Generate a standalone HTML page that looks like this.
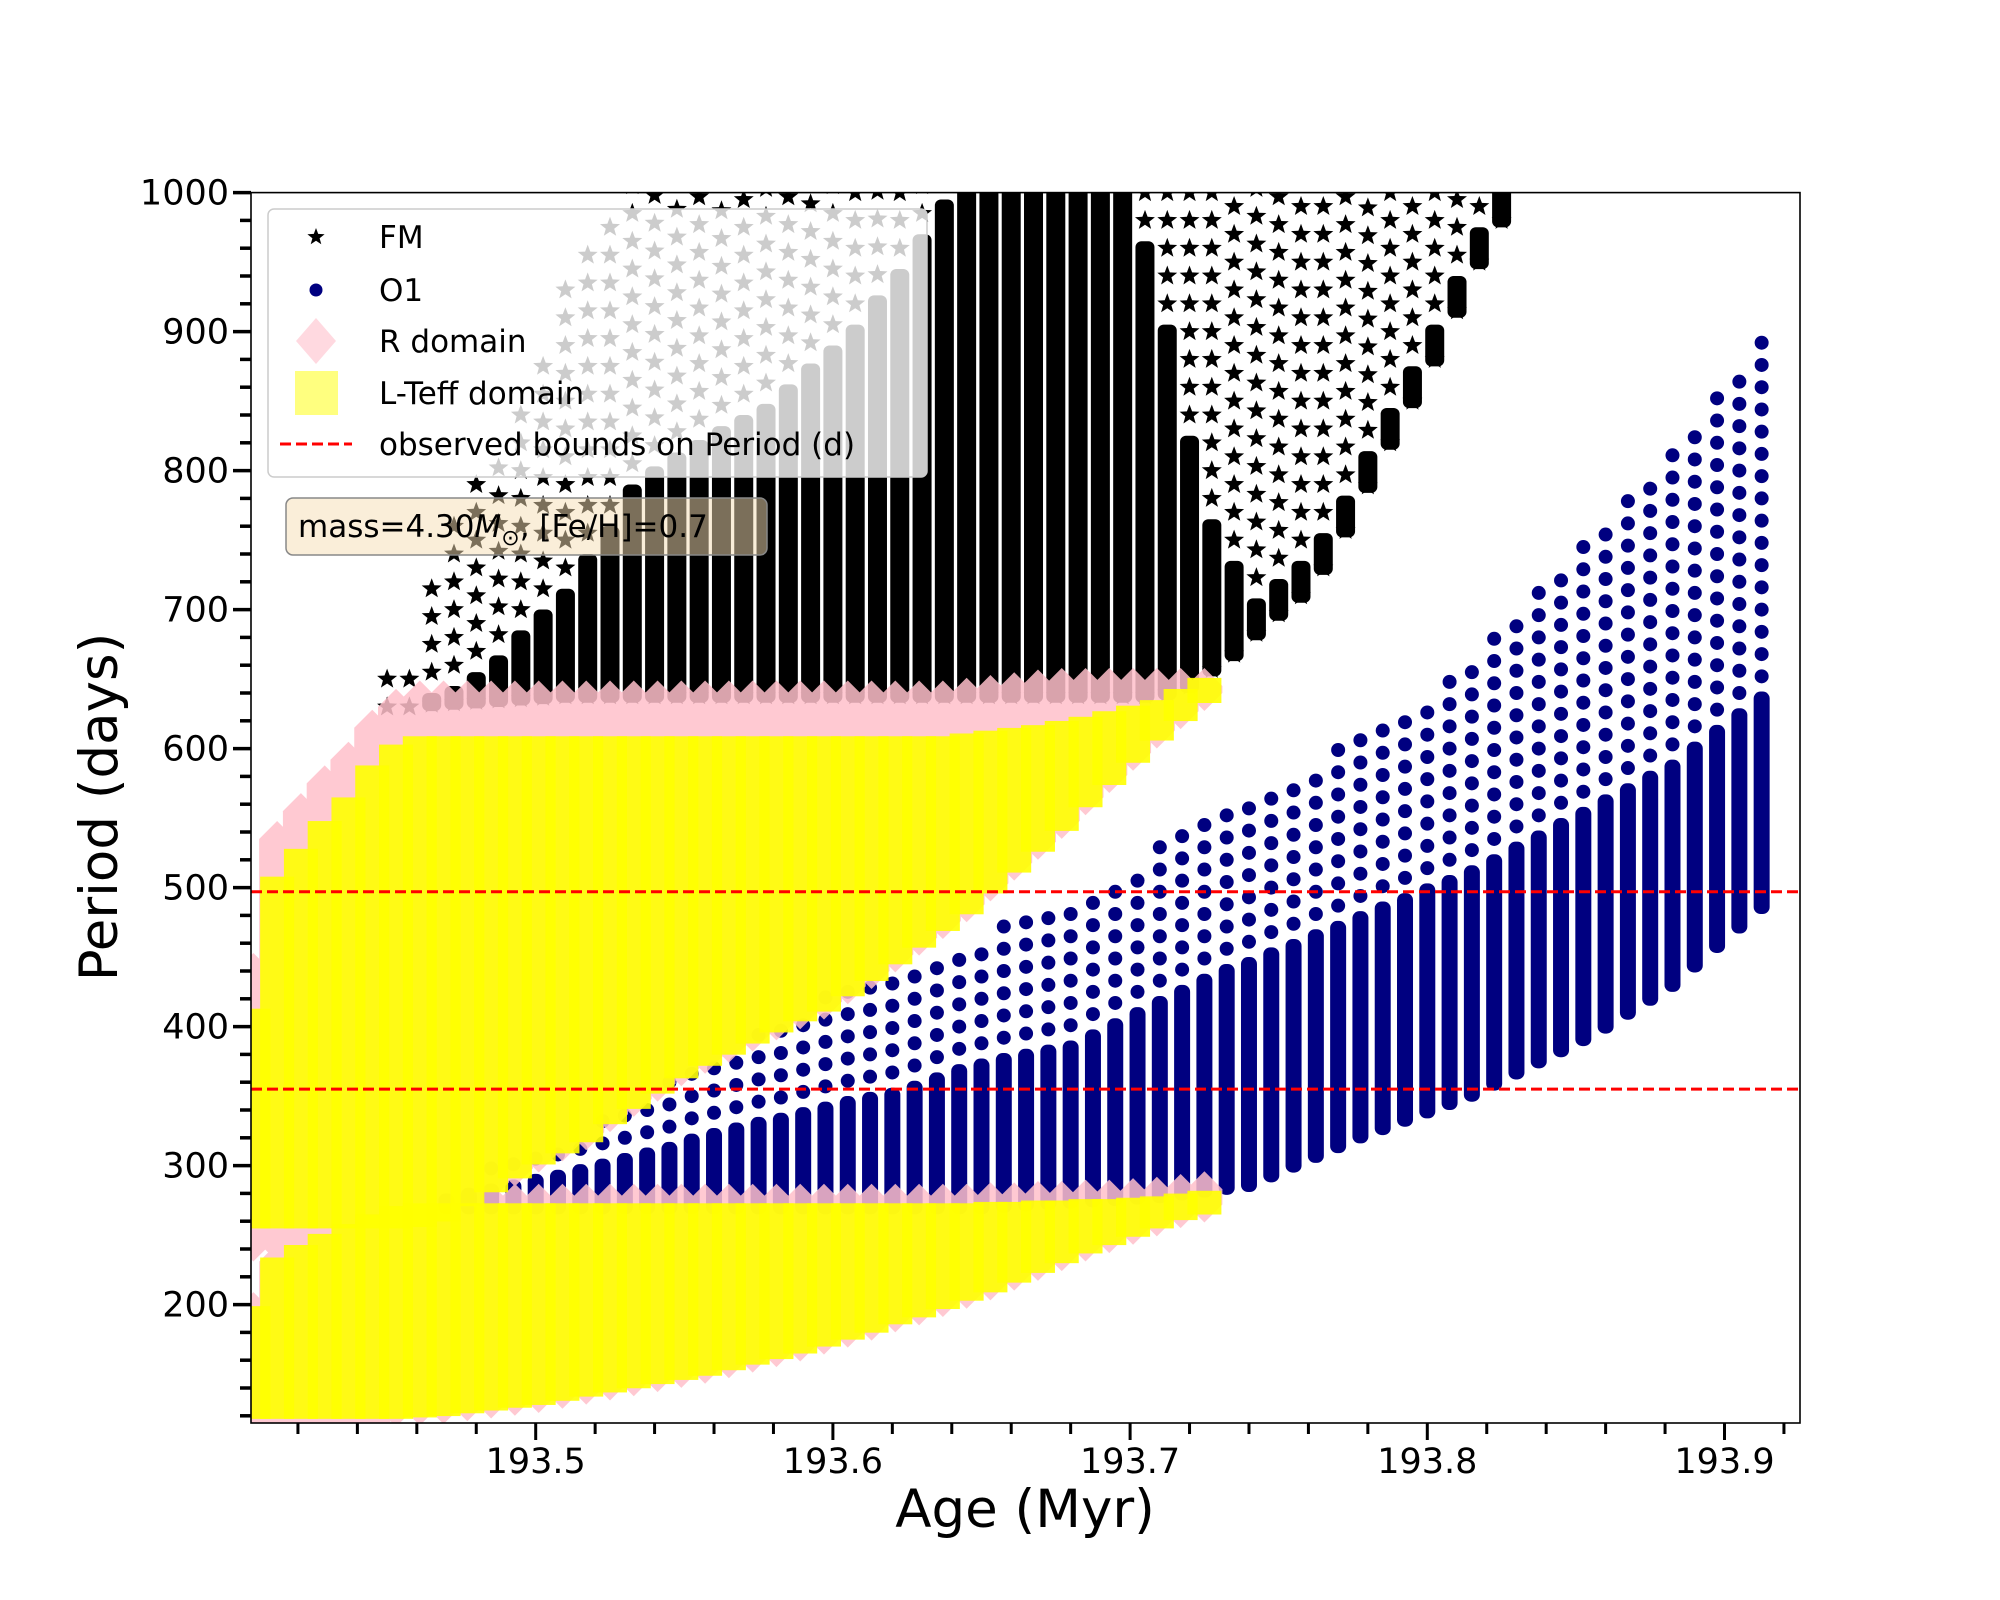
<!DOCTYPE html>
<html><head><meta charset="utf-8"><style>
html,body{margin:0;padding:0;background:#fff;}
svg{display:block;font-family:"DejaVu Sans","Liberation Sans",sans-serif;}
</style></head><body>
<svg id="chart" width="2000" height="1600" viewBox="0 0 2000 1600">
<defs><clipPath id="plotclip"><rect x="251" y="192.6" width="1549" height="1230.4"/></clipPath></defs>
<rect x="0" y="0" width="2000" height="1600" fill="#fff"/>
<g id="plot" clip-path="url(#plotclip)"></g>
<g id="axes"></g>
</svg>
<script>
// ---- data ----
const fmAges=[];for(let i=0;i<51;i++)fmAges.push(+(193.45+0.0075*i).toFixed(4));
const fmLow=[630,630,632,633,634,635,636,637,638,638,638,638,638,638,638,638,638,638,638,638,638,638,638,638,638,638,638,638,638,638,638,638,638,638,638,640,645,657,668,683,697,710,730,757,789,820,850,880,915,950,980];
const fmDense=[630,630,635,640,650,662,680,695,710,735,755,785,798,808,817,827,835,843,857,872,885,900,921,940,965,990,1000,1000,1000,1000,1000,1000,1000,1000,960,900,820,760,730,703,717,730,750,777,809,840,870,900,935,970,1000];
const fmTop=[645,650,705,760,790,800,830,880,920,950,980,1000,1000,1000,1000,1000,1000,1000,1000,1000,1000,1000,1000,1000,1000,1000,1000,1000,1000,1000,1000,1000,1000,1000,1000,1000,1000,1000,1000,1000,1000,1000,1000,1000,1000,1000,1000,1000,1000,1000,1000];
const o1Ages=[];for(let i=0;i<60;i++)o1Ages.push(+(193.47+0.0075*i).toFixed(4));
const o1Low=[270,270,270,270,270,270,270,270,270,270,270,270,270,270,270,270,270,270,270,270,270,270,270,270,270,271,272,273,274,275,276,277,278,280,282,284,286,293,300,307,314,321,327,333,339,345,351,359,367,375,383,391,400,410,420,430,444,458,472,486];
const o1Dense=[275,279,282,285,289,292,296,300,304,308,312,318,322,326,330,333,337,341,345,348,351,356,362,368,372,376,379,382,385,393,401,409,417,425,433,440,445,452,458,465,471,478,485,491,498,504,511,519,528,536,545,553,562,570,579,587,600,612,624,636];
const o1Top=[280,288,297,305,309,316,321,330,339,347,356,365,375,385,395,403,410,417,423,430,436,443,451,457,462,468,474,480,487,497,506,516,526,535,545,553,562,570,579,587,596,604,613,621,636,651,666,681,696,711,726,741,756,775,795,814,834,853,873,888];
const ltAges=[];for(let i=0;i<41;i++)ltAges.push(+(193.405+0.008*i).toFixed(3));
const ltUpperLow=[262,262,262,262,262,262,262,263,267,278,288,298,308,316,324,337,348,359,370,379,387,395,403,411,418,429,440,452,464,476,488,503,518,533,548,565,581,597,613,627,640];
const ltUpperHigh=[410,505,525,545,562,585,600,606,606,606,606,606,606,606,606,606,606,606,606,606,606,606,606,606,606,606,606,606,606,606,608,610,612,614,617,620,624,628,632,640,648];
const ltLowerLow=[125,125,125,125,125,125,125,126,127,129,131,133,135,138,141,144,147,150,153,156,160,164,168,172,177,182,187,193,198,204,210,216,223,230,237,244,250,256,262,268,272];
const ltLowerHigh=[196,231,240,248,255,262,268,270,270,270,270,270,270,270,270,270,270,270,270,270,270,270,270,270,270,270,270,270,270,270,270,271,271,272,272,273,273,274,275,277,279];
const obsBounds=[497,355];
const xTicks=[193.5,193.6,193.7,193.8,193.9];
const xTickLabels=["193.5","193.6","193.7","193.8","193.9"];
const yTicks=[200,300,400,500,600,700,800,900,1000];
const yTickLabels=["200","300","400","500","600","700","800","900","1000"];

// ---- scales ----
const X=a=>535.7+(a-193.5)*2972;
const Y=v=>192.6+(1000-v)*1.39;
const NS="http://www.w3.org/2000/svg";
const plot=document.getElementById('plot'),axes=document.getElementById('axes');
function mk(tag,attrs,parent){const e=document.createElementNS(NS,tag);for(const k in attrs)e.setAttribute(k,attrs[k]);parent.appendChild(e);return e;}
function starPts(cx,cy,r){let p=[];for(let k=0;k<10;k++){const rr=k%2?r*0.42:r;const an=-Math.PI/2+k*Math.PI/5;p.push((cx+rr*Math.cos(an)).toFixed(1)+','+(cy+rr*Math.sin(an)).toFixed(1));}return p.join(' ');}

// FM stars
const gFM=mk('g',{},plot);


fmAges.forEach((a,i)=>{
  const x=X(a);
  if(fmDense[i]>fmLow[i]+2){const r=mk('rect',{x:x-9.5,y:Y(fmDense[i])-7,width:19,height:Y(fmLow[i])-Y(fmDense[i])+14,rx:6,fill:'#000'},gFM);
    }
  for(let v=fmDense[i]+20;v<=fmTop[i]+10;v+=20){const s=mk('polygon',{points:starPts(x,Y(v),10.5),fill:'#000'},gFM);
    }
  const s0=mk('polygon',{points:starPts(x,Y(fmLow[i]),10.5),fill:'#000'},gFM);
  
});
// O1 dots
const gO1=mk('g',{},plot);


o1Ages.forEach((a,i)=>{
  const x=X(a);
  const r=mk('rect',{x:x-8,y:Y(o1Dense[i])-7,width:16,height:Y(o1Low[i])-Y(o1Dense[i])+14,rx:7,fill:'#000080'},gO1);
  
  for(let v=o1Dense[i]+16;v<=o1Top[i]+4;v+=16){const c=mk('circle',{cx:x,cy:Y(v),r:7,fill:'#000080'},gO1);
    }
});
// R domain (pink diamonds)
const gR=mk('g',{opacity:0.85},plot);


ltAges.forEach((a,i)=>{
  const x=X(a);
  const bands=[[ltUpperLow[i]-(i<8?18:0),Math.min(ltUpperHigh[i]+30,645)],[ltLowerLow[i]-(i<6?12:0),ltLowerHigh[i]+(i<8?0:4)]];
  bands.forEach(b=>{const y1=Y(b[1]),y2=Y(b[0]);
    const p=mk('polygon',{points:`${x},${y1-18} ${x+18},${y1} ${x+18},${y2} ${x},${y2+18} ${x-18},${y2} ${x-18},${y1}`,fill:'#ffc0cb'},gR);
    });
});
// L-Teff domain (yellow squares)
const gL=mk('g',{},plot);


ltAges.forEach((a,i)=>{
  const x=X(a);
  [[ltUpperLow[i],ltUpperHigh[i]],[ltLowerLow[i],ltLowerHigh[i]]].forEach(b=>{
    const r=mk('rect',{x:x-17,y:Y(b[1])-4,width:34,height:Y(b[0])-Y(b[1])+14,fill:'#ffff00','fill-opacity':0.9},gL);
    });
});
// observed bounds
obsBounds.forEach(v=>{const l=mk('line',{x1:251,x2:1800,y1:Y(v),y2:Y(v),stroke:'#ff0000','stroke-width':3,'stroke-dasharray':'11,5'},plot);
  });

// axes frame
const fr=mk('rect',{x:251,y:192.6,width:1549,height:1230.4,fill:'none',stroke:'#000','stroke-width':1.6},axes);

xTicks.forEach((t,i)=>{
  const x=X(t);
  const l=mk('line',{x1:x,x2:x,y1:1423,y2:1440,stroke:'#000','stroke-width':3},axes);
  
  const tx=mk('text',{x:x,y:1473,'font-size':35,'text-anchor':'middle',fill:'#000'},axes);tx.textContent=xTickLabels[i];
  
});
for(let k=0;k<26;k++){const t=193.42+0.02*k;if(Math.abs(((t-193.4)/0.1)-Math.round((t-193.4)/0.1))<1e-6)continue;
  const x=X(t);if(x>1800)continue;
  const l=mk('line',{x1:x,x2:x,y1:1423,y2:1434,stroke:'#000','stroke-width':3},axes);
  }
yTicks.forEach((t,i)=>{
  const y=Y(t);
  const l=mk('line',{x1:233,x2:251,y1:y,y2:y,stroke:'#000','stroke-width':3.5},axes);
  
  const tx=mk('text',{x:229,y:y+12,'font-size':35,'text-anchor':'end',fill:'#000'},axes);tx.textContent=yTickLabels[i];
  
});
for(let v=120;v<1000;v+=20){if(v%100===0)continue;const y=Y(v);
  const l=mk('line',{x1:240,x2:251,y1:y,y2:y,stroke:'#000','stroke-width':3.5},axes);
  }
const xl=mk('text',{x:1025,y:1527,'font-size':53,'text-anchor':'middle',fill:'#000'},axes);xl.textContent='Age (Myr)';

const yl=mk('text',{x:0,y:0,'font-size':53,'text-anchor':'middle',fill:'#000',transform:'translate(117,807) rotate(-90)'},axes);yl.textContent='Period (days)';


// legend
const lg=mk('g',{},axes);


mk('rect',{x:268,y:209,width:659,height:268,rx:6,fill:'#fff','fill-opacity':0.8,stroke:'#cccccc','stroke-width':1.5},lg);
const ent=[['FM',237],['O1',290],['R domain',341],['L-Teff domain',393],['observed bounds on Period (d)',444]];
mk('polygon',{points:starPts(316,237,9),fill:'#000'},lg);
mk('circle',{cx:316,cy:290,r:6.5,fill:'#000080'},lg);
mk('polygon',{points:'316,318 336,341 316,364 296,341',fill:'#ffc0cb','fill-opacity':0.6},lg);
mk('rect',{x:295,y:371,width:43,height:44,fill:'#ffff00','fill-opacity':0.5},lg);
mk('line',{x1:280,x2:352,y1:444,y2:444,stroke:'#ff0000','stroke-width':3,'stroke-dasharray':'11,5'},lg);
ent.forEach(e=>{const t=mk('text',{x:379,y:e[1]+11,'font-size':31,fill:'#000'},lg);t.textContent=e[0];
  });
// annotation box
const an=mk('g',{},axes);


mk('rect',{x:286,y:498,width:481,height:57,rx:7,fill:'#f5deb3','fill-opacity':0.5,stroke:'#888','stroke-width':1.5},an);
const at=mk('text',{x:298,y:537,'font-size':31,fill:'#000'},an);
at.innerHTML='mass=4.30<tspan font-style="italic">M</tspan><tspan font-size="22" dy="8">⊙</tspan><tspan dy="-8">, [Fe/H]=0.7</tspan>';
</script>
</body></html>
